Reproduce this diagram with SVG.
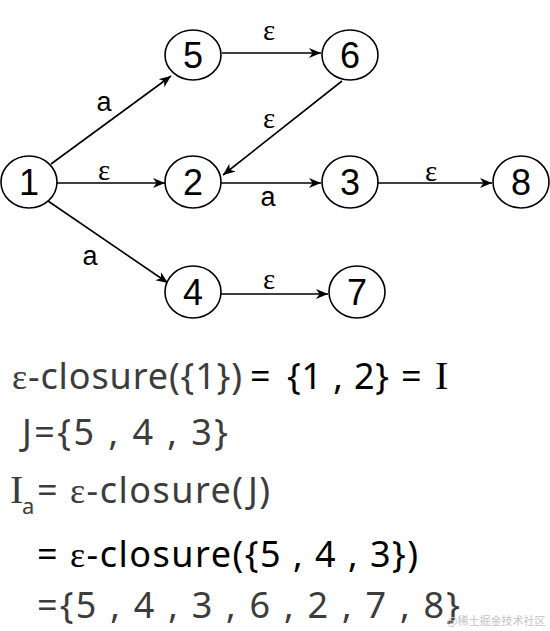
<svg xmlns="http://www.w3.org/2000/svg" width="550" height="631" viewBox="0 0 550 631">
<style>
.node ellipse{fill:#fff;stroke:#000;stroke-width:1.6}
.node text{font-family:"Liberation Sans",Arial,sans-serif;font-size:36px;fill:#000;text-anchor:middle}
.edge{stroke:#000;stroke-width:1.6;fill:none;marker-end:url(#arr)}
.lbl{font-family:"Liberation Sans",Arial,sans-serif;font-size:27px;fill:#000;text-anchor:middle}
.eps{font-family:"Liberation Serif","Times New Roman",serif;font-size:29px;fill:#000;text-anchor:middle}
.t{font-family:"Noto Sans","Open Sans",sans-serif;font-size:36px}
.g{fill:#3c3c3c}
.k{fill:#000}
.s{font-family:"Liberation Serif","Times New Roman",serif}
.bigI{font-family:"Liberation Serif","Times New Roman",serif;font-size:40px}
</style>
<defs>
<marker id="arr" markerUnits="userSpaceOnUse" markerWidth="14" markerHeight="12" refX="12" refY="5" orient="auto">
<path d="M0,0 L12,5 L0,10 L3.5,5 z" fill="#000"/>
</marker>
</defs>
<rect width="550" height="631" fill="#fff"/>
<g id="connectors">
<line class="edge" x1="222" y1="53" x2="321" y2="53"/>
<line class="edge" x1="51" y1="164" x2="171" y2="76"/>
<line class="edge" x1="57" y1="183" x2="165" y2="183"/>
<line class="edge" x1="48" y1="201" x2="168" y2="283"/>
<line class="edge" x1="342" y1="81" x2="223" y2="175"/>
<line class="edge" x1="221" y1="183" x2="321" y2="183"/>
<line class="edge" x1="378" y1="183" x2="492" y2="183"/>
<line class="edge" x1="221" y1="294" x2="328" y2="294"/>
<text class="lbl" x="104" y="111">a</text>
<text class="eps" x="104" y="180">ε</text>
<text class="lbl" x="90" y="265">a</text>
<text class="eps" x="269" y="40">ε</text>
<text class="eps" x="269" y="128">ε</text>
<text class="lbl" x="268" y="206">a</text>
<text class="eps" x="431" y="181">ε</text>
<text class="eps" x="269" y="289">ε</text>
</g>
<g id="n1" class="node"><ellipse cx="29" cy="182" rx="28" ry="26"/><text x="29" y="195">1</text></g>
<g id="n5" class="node"><ellipse cx="193" cy="55" rx="28" ry="25"/><text x="193" y="68">5</text></g>
<g id="n6" class="node"><ellipse cx="350" cy="55" rx="28" ry="25"/><text x="350" y="68">6</text></g>
<g id="n2" class="node"><ellipse cx="193" cy="182" rx="28" ry="26"/><text x="193" y="195">2</text></g>
<g id="n3" class="node"><ellipse cx="350" cy="182" rx="28" ry="26"/><text x="350" y="195">3</text></g>
<g id="n8" class="node"><ellipse cx="521" cy="182" rx="28" ry="26"/><text x="521" y="195">8</text></g>
<g id="n4" class="node"><ellipse cx="193" cy="292" rx="28" ry="26"/><text x="193" y="305">4</text></g>
<g id="n7" class="node"><ellipse cx="357" cy="292" rx="28" ry="26"/><text x="357" y="305">7</text></g>
<g id="formulas">
<text class="t g" x="12" y="389" textLength="230" lengthAdjust="spacing"><tspan class="s">ε</tspan>-closure({1})</text>
<text class="t k" x="250" y="389">=</text>
<text class="t k" x="287" y="389" textLength="102" lengthAdjust="spacing">{1 , 2}</text>
<text class="t k" x="401" y="389">=</text>
<text class="k bigI" x="435" y="389">I</text>
<text class="t g" x="22" y="445" textLength="206" lengthAdjust="spacing">J={5 , 4 , 3}</text>
<text class="g bigI" x="10" y="503">I</text>
<text class="g" x="22" y="514" font-family="Noto Sans, sans-serif" font-size="22">a</text>
<text class="t g" x="37" y="503" textLength="233" lengthAdjust="spacing">= <tspan class="s">ε</tspan>-closure(J)</text>
<text class="t k" x="37" y="567" textLength="381" lengthAdjust="spacing">= <tspan class="s">ε</tspan>-closure({5 , 4 , 3})</text>
<text class="t g" x="37" y="618" textLength="423" lengthAdjust="spacing">={5 , 4 , 3 , 6 , 2 , 7 , 8}</text>
<text x="447" y="625" font-family="Noto Sans CJK SC, sans-serif" font-size="11" fill="#c4c4c4">@稀土掘金技术社区</text>
</g>
</svg>
